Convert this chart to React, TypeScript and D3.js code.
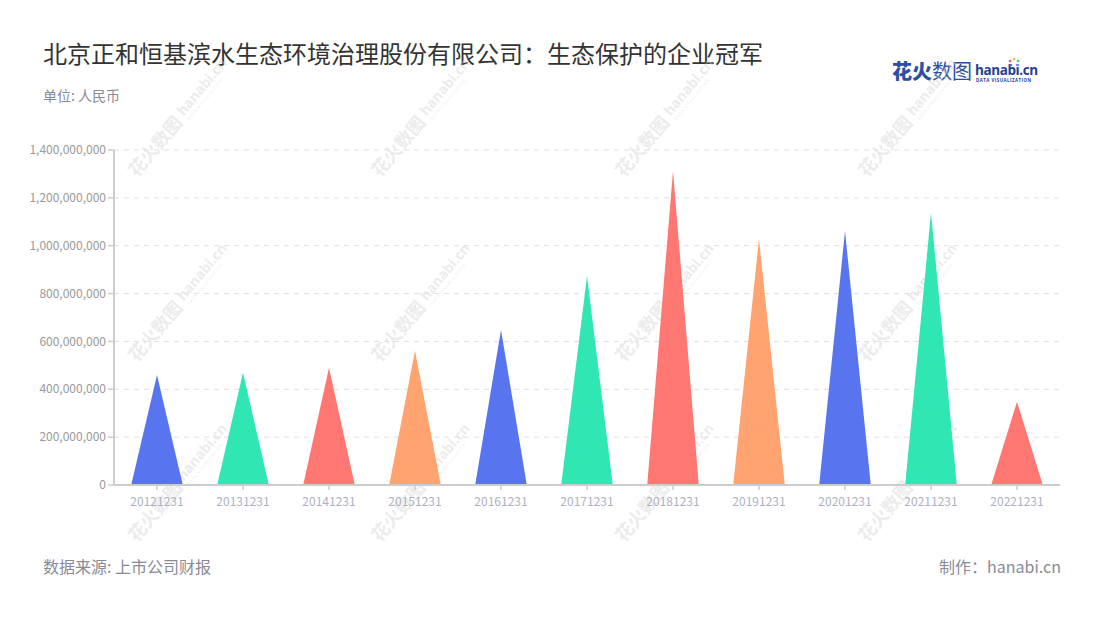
import React from "react";
import * as d3 from "d3";

const categories = ["20121231","20131231","20141231","20151231","20161231","20171231","20181231","20191231","20201231","20211231","20221231"];
const values = [460e6, 469e6, 490e6, 561e6, 648e6, 873e6, 1312e6, 1028e6, 1061e6, 1138e6, 348e6];
const palette = ["#5874ee", "#30e6b2", "#ff7772", "#ffa370"];
const yTicks = [0, 200e6, 400e6, 600e6, 800e6, 1000e6, 1200e6, 1400e6];

const W = 1100, H = 620;
const M = { left: 114, right: 1060, top: 150, bottom: 485 };
const FONT = "'Noto Sans CJK SC', 'Noto Sans', sans-serif";

const wmX = [137, 380, 624, 867];
const wmY = [178, 363, 543];

function Watermark({ x, y }: { x: number; y: number }) {
  return (
    <g transform={`translate(${x},${y}) rotate(-50)`} opacity={0.4}>
      <text x={0} y={0} fontSize={18} fontWeight={700} fill="#d0d0d0" fontFamily={FONT}>花火数图</text>
      <text x={77} y={-4} fontSize={14} fontWeight={700} fill="#d0d0d0" fontFamily="'Open Sans', sans-serif">hanabi.cn</text>
      <text x={78} y={3} fontSize={4} fill="#d0d0d0" fontFamily="'Open Sans', sans-serif" letterSpacing={0.7}>DATA VISUALIZATION</text>
    </g>
  );
}

export default function App() {
  const x = d3.scaleBand<string>().domain(categories).range([M.left, M.right]);
  const y = d3.scaleLinear().domain([0, 1400e6]).range([M.bottom, M.top]);
  const fmt = d3.format(",");
  const half = x.bandwidth() * 0.3;

  return (
    <svg width={W} height={H} style={{ position: "absolute", left: 0, top: 0, background: "#fff" }}>
      <rect width={W} height={H} fill="#fff" />
      {/* title */}
      <text x={43} y={63} fontSize={24} fill="#333" fontFamily={FONT}>北京正和恒基滨水生态环境治理股份有限公司：生态保护的企业冠军</text>
      <text x={43} y={101} fontSize={14} fill="#8a8a96" fontFamily={FONT}>单位: 人民币</text>

      {/* logo */}
      <g>
        <text x={892} y={79} fontSize={20} fontWeight={900} fill="#2c4fa3" fontFamily={FONT}>花火</text>
        <text x={932} y={79} fontSize={20} fontWeight={400} fill="#2c4fa3" fontFamily={FONT}>数图</text>
        <text x={975} y={75} fontSize={13.5} fontWeight={700} fill="#23418f" fontFamily="'Open Sans', sans-serif" letterSpacing={-0.4}>hanabi.cn</text>
        <text x={976} y={82} fontSize={4.4} fontWeight={700} fill="#23418f" fontFamily="'Open Sans', sans-serif" letterSpacing={0.5}>DATA VISUALIZATION</text>
        {[["#ff5a5a", -4, -3], ["#ffc02e", 0, -5], ["#31d39b", 4, -3], ["#4f7cff", -3, 1], ["#b46cff", 3, 1]].map((d, i) => (
          <circle key={i} cx={1014 + (d[1] as number)} cy={64 + (d[2] as number)} r={1.3} fill={d[0] as string} />
        ))}
      </g>

      {/* watermarks */}
      {wmY.map((wy) => wmX.map((wx) => <Watermark key={`${wx}-${wy}`} x={wx} y={wy} />))}

      {/* grid */}
      {yTicks.slice(1).map((t) => (
        <line key={t} x1={M.left} x2={M.right} y1={y(t)} y2={y(t)} stroke="#e0e0e0" strokeDasharray="5,5" strokeWidth={1} />
      ))}

      {/* bars */}
      {categories.map((c, i) => {
        const cx = (x(c) as number) + x.bandwidth() / 2;
        const top = y(values[i]);
        const base = y(0);
        const p = d3.path();
        p.moveTo(cx - half, base);
        p.lineTo(cx, top);
        p.lineTo(cx + half, base);
        p.closePath();
        return <path key={c} d={p.toString()} fill={palette[i % palette.length]} />;
      })}

      {/* y axis */}
      <line x1={M.left} x2={M.left} y1={M.top} y2={M.bottom} stroke="#cccccc" strokeWidth={2} />
      {yTicks.map((t) => (
        <g key={t}>
          <line x1={M.left - 6} x2={M.left} y1={y(t)} y2={y(t)} stroke="#cccccc" strokeWidth={1.5} />
          <text x={M.left - 8} y={y(t)} dy="0.35em" textAnchor="end" fontSize={12} fill="#999" fontFamily={FONT}>{fmt(t)}</text>
        </g>
      ))}

      {/* x axis */}
      <line x1={M.left} x2={M.right} y1={M.bottom} y2={M.bottom} stroke="#cccccc" strokeWidth={2} />
      {categories.map((c) => {
        const cx = (x(c) as number) + x.bandwidth() / 2;
        return (
          <g key={c}>
            <line x1={cx} x2={cx} y1={M.bottom} y2={M.bottom + 5} stroke="#cccccc" strokeWidth={1.5} />
            <text x={cx} y={506} textAnchor="middle" fontSize={12} fill="#adb1c2" fontFamily={FONT}>{c}</text>
          </g>
        );
      })}

      {/* footer */}
      <text x={43} y={573} fontSize={16} fill="#8a8a96" fontFamily={FONT}>数据来源: 上市公司财报</text>
      <text x={1061} y={573} textAnchor="end" fontSize={16} fill="#8a8a96" fontFamily={FONT}>制作：hanabi.cn</text>
    </svg>
  );
}
